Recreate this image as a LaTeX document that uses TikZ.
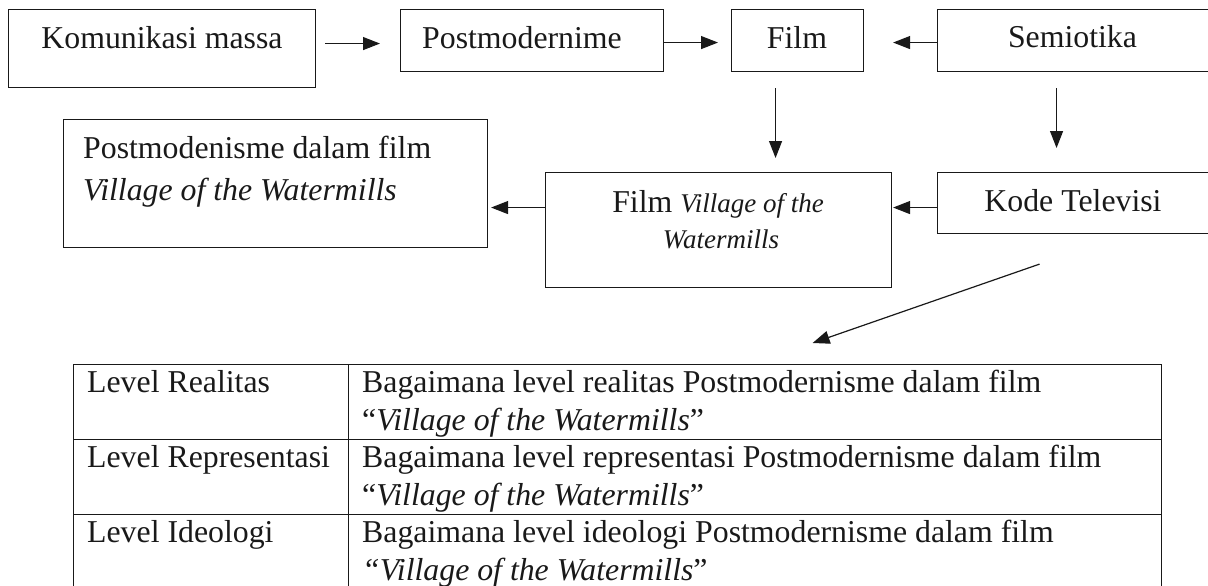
\documentclass[tikz,border=0pt]{standalone}
\usepackage{fontspec}
\setmainfont{Liberation Serif}
\usetikzlibrary{arrows.meta,calc}
\begin{document}
\begin{tikzpicture}[x=1pt,y=-1pt,
  box/.style={draw=black!90, line width=1.1pt, inner sep=0pt, anchor=north west, rectangle},
  cell/.style={draw=black!90, line width=1.2pt, inner sep=0pt, anchor=north west, rectangle, minimum height=75pt},
  txtc/.style={inner sep=0pt, anchor=base, font=\fontsize{31.8pt}{38pt}\selectfont, text=black!90},
  txtl/.style={inner sep=0pt, anchor=base west, font=\fontsize{31.8pt}{38pt}\selectfont, text=black!90},
  arr/.style={draw=black!90, line width=1.2pt, -{Triangle[length=17pt,width=13pt]}},
]
\useasboundingbox (0,0) rectangle (1208,586);

% top row boxes
\node[box, minimum width=307pt, minimum height=78pt] (kom) at (8,9) {};
\node[box, minimum width=263pt, minimum height=62pt] (pm) at (400,9) {};
\node[box, minimum width=132pt, minimum height=62pt] (film) at (731,9) {};
\node[box, minimum width=273pt, minimum height=62pt] (sem) at (937,9) {};

\node[txtc] (komt) at (162,49) {Komunikasi massa};
\node[txtl] (pmt) at (422,49) {Postmodernime};
\node[txtc] (filmt) at (797,49) {Film};
\node[txtc] (semt) at (1072.5,48) {Semiotika};

% middle row boxes
\node[box, minimum width=424pt, minimum height=128pt] (pmf) at (63,119) {};
\node[box, minimum width=346pt, minimum height=115pt] (filmv) at (545,172) {};
\node[box, minimum width=273pt, minimum height=61pt] (kode) at (937,172) {};

\node[txtl] (pmf1) at (83,158) {Postmodenisme dalam film};
\node[txtl] (pmf2) at (83,200) {\itshape Village of the Watermills};
\node[txtc] (filmv1) at (718,212) {Film {\fontsize{27pt}{32pt}\selectfont\itshape Village of the}};
\node[txtc] (filmv2) at (721,248) {\fontsize{27pt}{32pt}\selectfont\itshape Watermills};
\node[txtc] (kodet) at (1073,211) {Kode Televisi};

% table
\node[cell, minimum width=275pt] (r1a) at (73,364) {};
\node[cell, minimum width=813pt] (r1b) at (348,364) {};
\node[cell, minimum width=275pt] (r2a) at (73,439) {};
\node[cell, minimum width=813pt] (r2b) at (348,439) {};
\node[cell, minimum width=275pt] (r3a) at (73,514) {};
\node[cell, minimum width=813pt] (r3b) at (348,514) {};

\node[txtl] (t1a) at (87,392) {Level Realitas};
\node[txtl] (t2a) at (87,467) {Level Representasi};
\node[txtl] (t3a) at (87,542) {Level Ideologi};

\node[txtl] (t1b) at (362,392) {Bagaimana level realitas Postmodernisme dalam film};
\node[txtl] (t1c) at (362,430) {“\textit{Village of the Watermills}”};
\node[txtl] (t2b) at (362,467) {Bagaimana level representasi Postmodernisme dalam film};
\node[txtl] (t2c) at (362,505) {“\textit{Village of the Watermills}”};
\node[txtl] (t3b) at (362,542) {Bagaimana level ideologi Postmodernisme dalam film};
\node[txtl] (t3c) at (362,580) {\textit{“Village of the Watermills}”};

% connectors
\draw[arr] ($(kom.east |- pm.west)+(9,3)$) -- ($(pm.west)+(-20,3)$);
\draw[arr] ($(pm.east)+(0,2)$) -- ($(film.west)+(-13,2)$);
\draw[arr] ($(sem.west)+(0,2)$) -- ($(film.east)+(29,2)$);
\draw[arr] ($(film.south)+(-22,16)$) -- ($(filmv.north -| film.south)+(-22,-14)$);
\draw[arr] ($(sem.south)+(-17.5,16)$) -- ($(kode.north -| sem.south)+(-17.5,-24)$);
\draw[arr] ($(kode.west)+(0,4.5)$) -- ($(filmv.east |- kode.west)+(1,4.5)$);
\draw[arr] ($(filmv.west |- kode.west)+(0,4.5)$) -- ($(pmf.east |- kode.west)+(3,4.5)$);
\draw[arr] ($(kode.south)+(-34.5,30)$) -- ($(r1b.north)+(57.5,-21)$);
\end{tikzpicture}
\end{document}
